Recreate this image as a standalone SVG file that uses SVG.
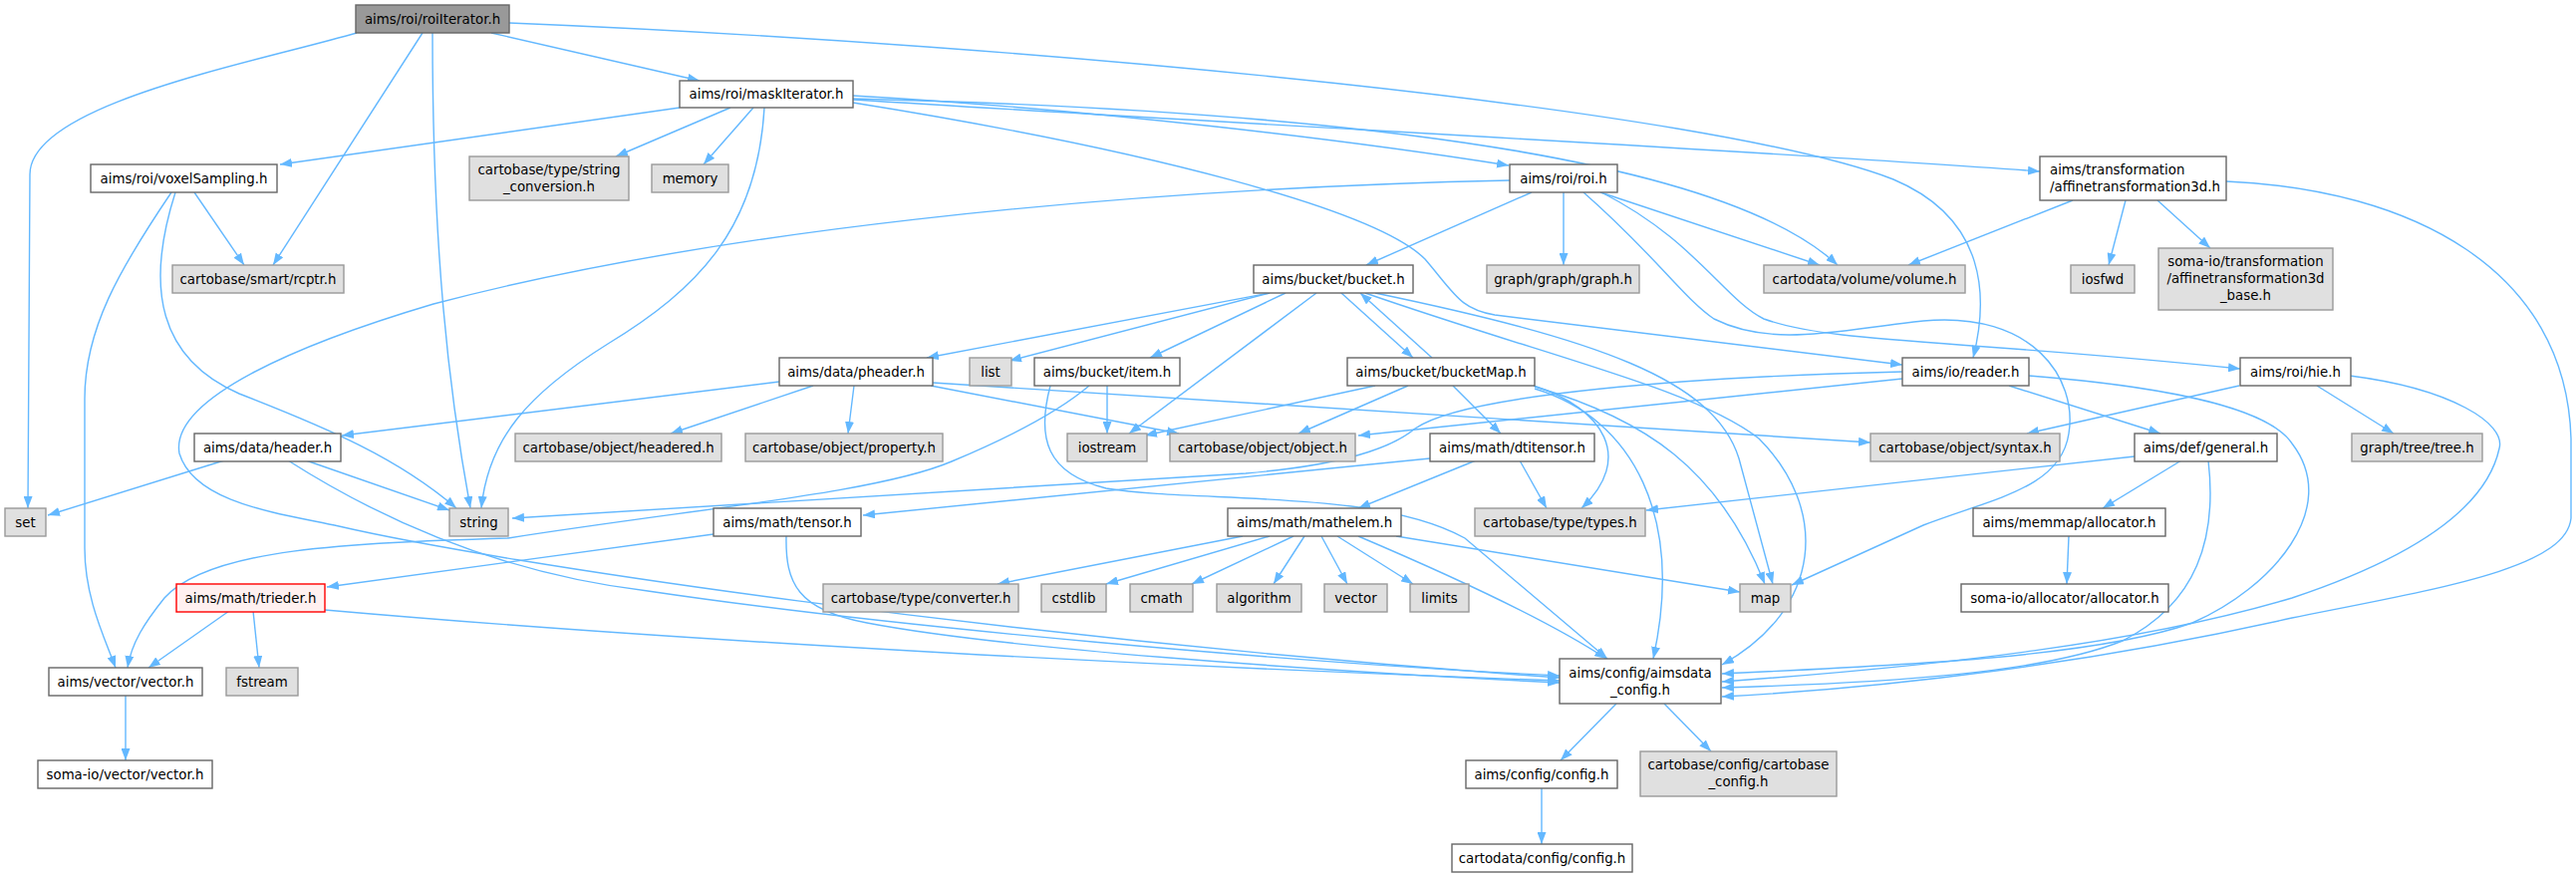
<svg xmlns="http://www.w3.org/2000/svg" width="2585" height="880" viewBox="0 0 2585 880">
<style>
.e{fill:none;stroke:#63b8ff;stroke-width:1.4;marker-end:url(#a)}
.n rect{fill:#fff;stroke:#666;stroke-width:1.4}
.x rect{fill:#e0e0e0;stroke:#999;stroke-width:1.4}
.r rect{fill:#999;stroke:#666;stroke-width:1.4}
.t rect{fill:#fff0f0;stroke:#f00;stroke-width:1.4}
text{font-family:"DejaVu Sans","Liberation Sans",sans-serif;font-size:13.33px;fill:#000;text-anchor:middle}
text.l{text-anchor:start}
</style>
<defs>
<marker id="a" markerUnits="userSpaceOnUse" markerWidth="12" markerHeight="9" refX="12" refY="4.5" orient="auto"><path d="M0,0 L12,4.5 L0,9 z" fill="#63b8ff"/></marker>
</defs>
<g id="edges">
<path class="e" d="M358,33 C250,64 30,105 30,175 L28,510"/>
<path class="e" d="M424,33 L274,266"/>
<path class="e" d="M434,33 C434,250 450,390 472,510"/>
<path class="e" d="M493,33 L702,81"/>
<path class="e" d="M511,23 C1050,45 1720,110 1900,180 C1995,220 1995,300 1980,359"/>
<path class="e" d="M682,108 L281,165"/>
<path class="e" d="M733,108 L618,157"/>
<path class="e" d="M756,108 L706,165"/>
<path class="e" d="M767,108 C760,230 700,290 610,345 C530,395 490,440 483,510"/>
<path class="e" d="M856,96 C1100,110 1350,140 1514,166"/>
<path class="e" d="M856,99 C1300,110 1720,150 1844,266"/>
<path class="e" d="M856,100 C1250,125 1750,150 2047,172"/>
<path class="e" d="M856,103 C1150,150 1380,210 1430,260 C1460,295 1465,310 1500,316 L1909,366"/>
<path class="e" d="M1537,193 L1371,266"/>
<path class="e" d="M1569,193 L1569,266"/>
<path class="e" d="M1606,193 L1826,266"/>
<path class="e" d="M1589,193 C1660,255 1690,300 1720,320 C1780,350 1850,330 1930,322 C2040,312 2085,380 2076,435 C2068,490 2000,500 1930,527 L1798,587"/>
<path class="e" d="M1607,193 C1700,240 1730,300 1770,320 C1840,345 1960,340 2248,370"/>
<path class="e" d="M1515,181 C1100,190 700,235 435,305 C300,345 170,400 180,455 C195,505 280,515 340,528 C500,565 1000,640 1565,680"/>
<path class="e" d="M1274,294 L930,359"/>
<path class="e" d="M1274,294 L1013,362"/>
<path class="e" d="M1290,294 L1154,359"/>
<path class="e" d="M1321,294 L1133,435"/>
<path class="e" d="M1346,294 L1418,359"/>
<path class="e" d="M1437,359 L1365,294"/>
<path class="e" d="M1380,294 C1600,340 1720,380 1745,460 L1779,586"/>
<path class="e" d="M1370,294 C1560,360 1700,390 1765,440 C1835,510 1830,610 1728,667"/>
<path class="e" d="M1380,387 L1149,437"/>
<path class="e" d="M1413,387 L1303,435"/>
<path class="e" d="M1458,387 L1506,435"/>
<path class="e" d="M1539,387 C1610,410 1640,460 1587,510"/>
<path class="e" d="M1540,390 C1640,420 1690,520 1659,661"/>
<path class="e" d="M1540,388 C1650,420 1725,470 1771,586"/>
<path class="e" d="M782,383 L343,437"/>
<path class="e" d="M816,387 L673,435"/>
<path class="e" d="M857,387 L851,435"/>
<path class="e" d="M934,387 L1183,435"/>
<path class="e" d="M936,384 L1877,444"/>
<path class="e" d="M1111,387 L1111,435"/>
<path class="e" d="M1093,387 C1060,415 1010,440 955,463 C880,495 700,510 510,540 C350,545 210,550 165,600 C145,625 132,645 128,670"/>
<path class="e" d="M1054,387 C1040,440 1050,475 1110,490 C1200,505 1380,490 1470,540 L1613,661"/>
<path class="e" d="M1909,380 L1363,437"/>
<path class="e" d="M1909,373 C1700,378 1470,395 1420,430 C1390,455 1330,468 1250,475 L514,520"/>
<path class="e" d="M2016,387 L2168,435"/>
<path class="e" d="M2036,377 C2200,390 2280,415 2300,445 C2350,510 2280,590 2200,625 C2100,660 1900,668 1728,676"/>
<path class="e" d="M2247,387 L2034,435"/>
<path class="e" d="M2325,387 L2402,435"/>
<path class="e" d="M2358,377 C2460,390 2515,425 2508,450 C2495,510 2420,560 2300,600 C2150,645 1950,668 1728,684"/>
<path class="e" d="M2142,458 L1652,512"/>
<path class="e" d="M2189,462 L2110,510"/>
<path class="e" d="M2216,462 C2225,540 2205,605 2130,643 C2050,675 1900,685 1728,690"/>
<path class="e" d="M2076,538 L2074,586"/>
<path class="e" d="M2080,201 L1915,266"/>
<path class="e" d="M2133,201 L2116,266"/>
<path class="e" d="M2165,201 L2218,249"/>
<path class="e" d="M2234,182 C2420,190 2575,270 2580,440 L2580,520 C2575,570 2450,590 2300,620 C2100,665 1900,690 1728,699"/>
<path class="e" d="M225,462 L48,517"/>
<path class="e" d="M307,462 L451,512"/>
<path class="e" d="M289,462 C380,520 500,575 650,593 C900,630 1300,665 1565,678"/>
<path class="e" d="M230,613 L149,670"/>
<path class="e" d="M254,613 L260,670"/>
<path class="e" d="M326,612 C700,645 1200,670 1565,683"/>
<path class="e" d="M716,536 L328,589"/>
<path class="e" d="M789,538 C788,585 800,612 870,625 C1000,650 1300,672 1565,685"/>
<path class="e" d="M1435,460 C1300,475 1100,495 866,517"/>
<path class="e" d="M1481,462 L1363,510"/>
<path class="e" d="M1525,462 L1552,510"/>
<path class="e" d="M1247,538 L1001,586"/>
<path class="e" d="M1274,538 L1110,586"/>
<path class="e" d="M1298,538 L1196,586"/>
<path class="e" d="M1309,538 L1278,586"/>
<path class="e" d="M1326,538 L1352,586"/>
<path class="e" d="M1342,538 L1418,586"/>
<path class="e" d="M1401,538 L1746,594"/>
<path class="e" d="M1363,538 C1450,575 1550,620 1612,661"/>
<path class="e" d="M195,193 L245,266"/>
<path class="e" d="M172,193 C120,270 85,330 85,400 L85,550 C85,600 105,640 116,670"/>
<path class="e" d="M176,193 C145,290 160,360 240,395 C330,430 400,460 458,510"/>
<path class="e" d="M126,698 L126,763"/>
<path class="e" d="M1622,706 L1566,763"/>
<path class="e" d="M1670,706 L1717,754"/>
<path class="e" d="M1547,791 L1547,847"/>
</g>
<g id="roiIterator" class="r"><rect x="357" y="5" width="154" height="28"/><text x="434" y="23.5">aims/roi/roiIterator.h</text></g>
<g id="maskIterator" class="n"><rect x="682" y="81" width="174" height="27"/><text x="769" y="99">aims/roi/maskIterator.h</text></g>
<g id="voxelSampling" class="n"><rect x="91" y="165" width="187" height="28"/><text x="184.5" y="183.5">aims/roi/voxelSampling.h</text></g>
<g id="string_conversion" class="x"><rect x="471" y="157" width="160" height="44"/><text x="551" y="175.4">cartobase/type/string</text><text x="551" y="192">_conversion.h</text></g>
<g id="memory" class="x"><rect x="654" y="165" width="77" height="28"/><text x="692.5" y="183.5">memory</text></g>
<g id="roi" class="n"><rect x="1515" y="165" width="108" height="28"/><text x="1569" y="183.5">aims/roi/roi.h</text></g>
<g id="affinetransformation3d" class="n"><rect x="2047" y="157" width="187" height="44"/><text class="l" x="2057" y="175">aims/transformation</text><text class="l" x="2057" y="192">/affinetransformation3d.h</text></g>
<g id="rcptr" class="x"><rect x="173" y="266" width="172" height="28"/><text x="259" y="284.5">cartobase/smart/rcptr.h</text></g>
<g id="bucket" class="n"><rect x="1258" y="266" width="160" height="28"/><text x="1338" y="284.5">aims/bucket/bucket.h</text></g>
<g id="graph" class="x"><rect x="1492" y="266" width="153" height="28"/><text x="1568.5" y="284.5">graph/graph/graph.h</text></g>
<g id="volume" class="x"><rect x="1770" y="266" width="202" height="28"/><text x="1871" y="284.5">cartodata/volume/volume.h</text></g>
<g id="iosfwd" class="x"><rect x="2078" y="266" width="64" height="28"/><text x="2110" y="284.5">iosfwd</text></g>
<g id="affinetransformation3d_base" class="x"><rect x="2166" y="249" width="175" height="62"/><text x="2253.5" y="267.4">soma-io/transformation</text><text x="2253.5" y="284">/affinetransformation3d</text><text x="2253.5" y="300.7">_base.h</text></g>
<g id="pheader" class="n"><rect x="782" y="359" width="154" height="28"/><text x="859" y="377.5">aims/data/pheader.h</text></g>
<g id="list" class="x"><rect x="973" y="359" width="42" height="28"/><text x="994" y="377.5">list</text></g>
<g id="item" class="n"><rect x="1038" y="359" width="146" height="28"/><text x="1111" y="377.5">aims/bucket/item.h</text></g>
<g id="bucketMap" class="n"><rect x="1352" y="359" width="188" height="28"/><text x="1446" y="377.5">aims/bucket/bucketMap.h</text></g>
<g id="reader" class="n"><rect x="1909" y="359" width="127" height="28"/><text x="1972.5" y="377.5">aims/io/reader.h</text></g>
<g id="hie" class="n"><rect x="2248" y="359" width="111" height="28"/><text x="2303.5" y="377.5">aims/roi/hie.h</text></g>
<g id="header" class="n"><rect x="195" y="435" width="147" height="28"/><text x="268.5" y="453.5">aims/data/header.h</text></g>
<g id="headered" class="x"><rect x="517" y="435" width="207" height="28"/><text x="620.5" y="453.5">cartobase/object/headered.h</text></g>
<g id="property" class="x"><rect x="748" y="435" width="198" height="28"/><text x="847" y="453.5">cartobase/object/property.h</text></g>
<g id="iostream" class="x"><rect x="1071" y="435" width="80" height="28"/><text x="1111" y="453.5">iostream</text></g>
<g id="object" class="x"><rect x="1174" y="435" width="186" height="28"/><text x="1267" y="453.5">cartobase/object/object.h</text></g>
<g id="dtitensor" class="n"><rect x="1435" y="435" width="165" height="28"/><text x="1517.5" y="453.5">aims/math/dtitensor.h</text></g>
<g id="syntax" class="x"><rect x="1877" y="435" width="190" height="28"/><text x="1972" y="453.5">cartobase/object/syntax.h</text></g>
<g id="general" class="n"><rect x="2142" y="435" width="143" height="28"/><text x="2213.5" y="453.5">aims/def/general.h</text></g>
<g id="tree" class="x"><rect x="2360" y="435" width="131" height="28"/><text x="2425.5" y="453.5">graph/tree/tree.h</text></g>
<g id="set" class="x"><rect x="5" y="510" width="41" height="28"/><text x="25.5" y="528.5">set</text></g>
<g id="string" class="x"><rect x="451" y="510" width="59" height="28"/><text x="480.5" y="528.5">string</text></g>
<g id="tensor" class="n"><rect x="716" y="510" width="148" height="28"/><text x="790" y="528.5">aims/math/tensor.h</text></g>
<g id="mathelem" class="n"><rect x="1232" y="510" width="174" height="28"/><text x="1319" y="528.5">aims/math/mathelem.h</text></g>
<g id="types" class="x"><rect x="1480" y="510" width="171" height="28"/><text x="1565.5" y="528.5">cartobase/type/types.h</text></g>
<g id="memmap_allocator" class="n"><rect x="1980" y="510" width="193" height="28"/><text x="2076.5" y="528.5">aims/memmap/allocator.h</text></g>
<g id="trieder" class="t"><rect x="177" y="586" width="149" height="28"/><text x="251.5" y="604.5">aims/math/trieder.h</text></g>
<g id="converter" class="x"><rect x="826" y="586" width="196" height="28"/><text x="924" y="604.5">cartobase/type/converter.h</text></g>
<g id="cstdlib" class="x"><rect x="1045" y="586" width="65" height="28"/><text x="1077.5" y="604.5">cstdlib</text></g>
<g id="cmath" class="x"><rect x="1134" y="586" width="63" height="28"/><text x="1165.5" y="604.5">cmath</text></g>
<g id="algorithm" class="x"><rect x="1221" y="586" width="85" height="28"/><text x="1263.5" y="604.5">algorithm</text></g>
<g id="vector" class="x"><rect x="1329" y="586" width="63" height="28"/><text x="1360.5" y="604.5">vector</text></g>
<g id="limits" class="x"><rect x="1415" y="586" width="59" height="28"/><text x="1444.5" y="604.5">limits</text></g>
<g id="map" class="x"><rect x="1746" y="586" width="51" height="28"/><text x="1771.5" y="604.5">map</text></g>
<g id="somaio_allocator" class="n"><rect x="1968" y="586" width="208" height="28"/><text x="2072" y="604.5">soma-io/allocator/allocator.h</text></g>
<g id="aims_vector" class="n"><rect x="49" y="670" width="154" height="28"/><text x="126" y="688.5">aims/vector/vector.h</text></g>
<g id="fstream" class="x"><rect x="227" y="670" width="72" height="28"/><text x="263" y="688.5">fstream</text></g>
<g id="aimsdata_config" class="n"><rect x="1565" y="661" width="162" height="45"/><text x="1646" y="679.7">aims/config/aimsdata</text><text x="1646" y="697">_config.h</text></g>
<g id="somaio_vector" class="n"><rect x="38" y="763" width="175" height="28"/><text x="125.5" y="781.5">soma-io/vector/vector.h</text></g>
<g id="aims_config" class="n"><rect x="1471" y="763" width="152" height="28"/><text x="1547" y="781.5">aims/config/config.h</text></g>
<g id="cartobase_config" class="x"><rect x="1646" y="754" width="197" height="45"/><text x="1744.5" y="772.4">cartobase/config/cartobase</text><text x="1744.5" y="789">_config.h</text></g>
<g id="cartodata_config" class="n"><rect x="1457" y="847" width="181" height="28"/><text x="1547.5" y="865.5">cartodata/config/config.h</text></g>
</svg>
